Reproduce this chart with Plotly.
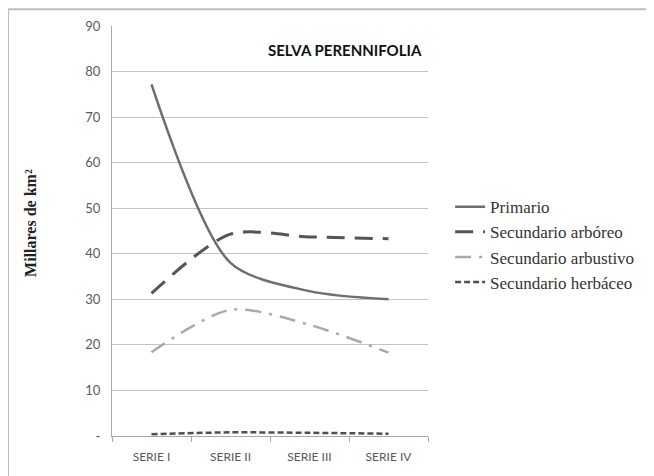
import plotly.graph_objects as go

series = ["SERIE I", "SERIE II", "SERIE III", "SERIE IV"]
primario = [77.2, 38.0, 31.8, 30.0]
arboreo = [31.3, 44.3, 43.7, 43.3]
arbustivo = [18.4, 27.7, 24.4, 18.3]
herbaceo = [0.4, 0.8, 0.7, 0.5]

y_ticks = [0, 10, 20, 30, 40, 50, 60, 70, 80, 90]
y_ticktext = ["-", "10", "20", "30", "40", "50", "60", "70", "80", "90"]

fig = go.Figure()

traces = [
    ("Primario", primario, "#6e6e6e", "solid", 2.5),
    ("Secundario arbóreo", arboreo, "#555555", "18px,10px", 3),
    ("Secundario arbustivo", arbustivo, "#a9a9a9", "16px,8px,3px,8px", 2.5),
    ("Secundario herbáceo", herbaceo, "#4f4f4f", "6px,3px", 2.5),
]
for i, (name, vals, col, dash, w) in enumerate(traces):
    fig.add_trace(go.Scatter(
        x=series, y=vals, name=name, mode="lines",
        line=dict(color=col, dash=dash, width=w, shape="spline", smoothing=0.8),
        legendgroup=str(i),
    ))

fig.add_annotation(
    text="<b>SELVA PERENNIFOLIA</b>", xref="paper", yref="paper",
    x=0.737, y=0.941, xanchor="center", yanchor="middle", showarrow=False,
    font=dict(family="Lato", size=15, color="#111111"),
)
# y axis title
fig.add_annotation(
    text="<b>Millares de km²</b>", xref="paper", yref="paper",
    x=-0.256, y=0.52, xanchor="center", yanchor="middle",
    showarrow=False, textangle=-90,
    font=dict(family="Liberation Serif", size=16, color="#222222"),
)

# frame around the chart (only top and left edges are visible)
fig.add_shape(type="line", xref="paper", yref="paper", x0=-0.329, x1=1.8, y0=1.041, y1=1.041,
              line=dict(color="#bdbdbd", width=2))
fig.add_shape(type="line", xref="paper", yref="paper", x0=-0.329, x1=-0.329, y0=1.041, y1=-0.2,
              line=dict(color="#bdbdbd", width=2))

fig.update_layout(
    width=654, height=476,
    margin=dict(l=104, r=234, t=18, b=48),
    paper_bgcolor="white", plot_bgcolor="white",
    showlegend=True,
    legend=dict(
        x=1.07, y=0.602, xanchor="left", yanchor="top",
        font=dict(family="Liberation Serif", size=17, color="#333333"),
        tracegroupgap=0, itemwidth=30, bgcolor="rgba(0,0,0,0)",
    ),
    yaxis=dict(
        range=[0, 90], tickvals=y_ticks, ticktext=y_ticktext,
        showgrid=True, gridcolor="#c4c4c4", gridwidth=1,
        showline=True, linecolor="#a8a8a8", linewidth=1,
        ticks="outside", ticklen=8, tickcolor="white",
        tickfont=dict(family="Lato", size=13, color="#595959"),
        zeroline=False, automargin=False,
    ),
    xaxis=dict(
        showgrid=False, showline=True, linecolor="#a8a8a8", linewidth=1,
        ticks="outside", tickson="boundaries", ticklen=5, tickcolor="#a8a8a8",
        tickfont=dict(family="Lato", size=12, color="#595959"),
        ticklabelstandoff=10, automargin=False,
        range=[-0.5, 3.5],
    ),
)

fig.write_html("out.html")
